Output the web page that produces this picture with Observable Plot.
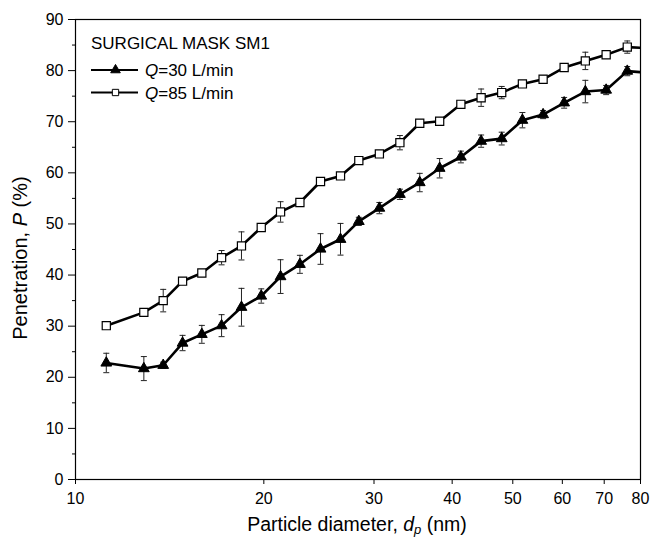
<!DOCTYPE html>
<html>
<head>
<meta charset="utf-8">
<script src="https://cdn.jsdelivr.net/npm/d3@7"></script>
<script src="https://cdn.jsdelivr.net/npm/@observablehq/plot@0.6"></script>
<style>
  html, body { margin: 0; padding: 0; background: white; }
  #chart { width: 650px; height: 540px; }
</style>
</head>
<body>
<div id="chart"></div>
<script>
// ---- data ----
const diameters = [11.2, 12.86, 13.81, 14.83, 15.92, 17.12, 18.42, 19.81, 21.27, 22.84, 24.64, 26.52, 28.37, 30.6, 33.0, 35.5, 38.2, 41.3, 44.5, 48.0, 51.8, 55.9, 60.4, 65.3, 70.5, 76.2, 82.0];
const pen30 = [22.8, 21.7, 22.35, 26.7, 28.4, 30.1, 33.7, 35.9, 39.7, 42.1, 45.1, 47.0, 50.5, 53.1, 55.8, 58.1, 60.9, 63.1, 66.2, 66.7, 70.3, 71.4, 73.7, 75.9, 76.2, 79.9, 79.6];
const err30 = [1.9, 2.35, 0.6, 1.5, 1.75, 2.15, 3.7, 1.4, 3.3, 1.76, 3.0, 3.1, 0.8, 1.1, 1.0, 1.8, 1.9, 1.15, 1.2, 1.25, 1.5, 0.8, 1.05, 2.2, 0.9, 0.9, 0.6];
const pen85 = [30.1, 32.7, 35.0, 38.8, 40.4, 43.4, 45.7, 49.3, 52.35, 54.2, 58.3, 59.4, 62.4, 63.7, 65.9, 69.7, 70.1, 73.4, 74.7, 75.7, 77.4, 78.3, 80.6, 81.9, 83.1, 84.6, 84.4];
const err85 = [0.3, 0.5, 2.2, 0.6, 0.5, 1.4, 2.75, 0.6, 2.0, 0.6, 0.6, 0.4, 0.5, 0.5, 1.4, 0.6, 0.6, 0.6, 1.7, 1.2, 0.5, 0.7, 0.5, 1.7, 0.6, 1.2, 0.6];
const xTicks = [10, 20, 30, 40, 50, 60, 70, 80];
const yTicks = [0, 10, 20, 30, 40, 50, 60, 70, 80, 90];
const yMinorTicks = [5, 15, 25, 35, 45, 55, 65, 75, 85];
const legendTitle = "SURGICAL MASK SM1";
const seriesLabels = ["=30 L/min", "=85 L/min"];

const d30 = diameters.map((d, i) => ({d, p: pen30[i], lo: pen30[i] - err30[i], hi: pen30[i] + err30[i]}));
const d85 = diameters.map((d, i) => ({d, p: pen85[i], lo: pen85[i] - err85[i], hi: pen85[i] + err85[i]}));

const FONT = "'Liberation Sans', Arial, Helvetica, sans-serif";
const capSymbol = {
  draw(context, size) {
    const r = Math.sqrt(size / Math.PI);
    context.moveTo(-r, 0);
    context.lineTo(r, 0);
  }
};

function errMarks(data) {
  return [
    Plot.ruleX(data, {x: "d", y1: "lo", y2: "hi", stroke: "#222", strokeWidth: 1, clip: true}),
    Plot.dot(data, {x: "d", y: "lo", symbol: capSymbol, r: 3, stroke: "#222", strokeWidth: 1, clip: true}),
    Plot.dot(data, {x: "d", y: "hi", symbol: capSymbol, r: 3, stroke: "#222", strokeWidth: 1, clip: true})
  ];
}

const chart = Plot.plot({
  width: 650,
  height: 540,
  marginLeft: 75,
  marginRight: 10,
  marginTop: 19,
  marginBottom: 61,
  style: {fontFamily: FONT, fontSize: "16px", color: "black", background: "white"},
  x: {type: "log", domain: [10, 80]},
  y: {domain: [0, 90]},
  marks: [
    Plot.axisX({ticks: xTicks, tickFormat: d => String(d), tickSize: 5, tickPadding: 8, label: null, fontSize: 16}),
    Plot.axisY({ticks: yTicks, tickSize: 7, tickPadding: 5, label: null, fontSize: 16}),
    Plot.axisY({ticks: yMinorTicks, tickSize: 3, tickFormat: () => "", label: null}),
    ...errMarks(d30),
    ...errMarks(d85),
    Plot.line(d30, {x: "d", y: "p", stroke: "black", strokeWidth: 2.6, clip: true}),
    Plot.line(d85, {x: "d", y: "p", stroke: "black", strokeWidth: 2.6, clip: true}),
    Plot.dot(d30, {x: "d", y: "p", symbol: "triangle", r: 4, fill: "black", stroke: "black", strokeWidth: 1, clip: true}),
    Plot.dot(d85, {x: "d", y: "p", symbol: "square", r: 4.6, fill: "white", stroke: "black", strokeWidth: 1.2, clip: true}),
    Plot.frame({stroke: "black", strokeWidth: 1.2})
  ]
});

document.getElementById("chart").appendChild(chart);

// ---- axis labels and legend ----
const svg = d3.select(chart);

const xl = svg.append("text")
  .attr("x", 357).attr("y", 531)
  .attr("text-anchor", "middle")
  .attr("font-family", FONT).attr("font-size", 19.5).attr("fill", "black");
xl.append("tspan").text("Particle diameter, ");
xl.append("tspan").attr("font-style", "italic").text("d");
xl.append("tspan").attr("font-style", "italic").attr("font-size", 13).attr("dy", 3).text("p");
xl.append("tspan").attr("dy", -3).text(" (nm)");

const yl = svg.append("text")
  .attr("transform", "translate(27,258) rotate(-90)")
  .attr("text-anchor", "middle")
  .attr("font-family", FONT).attr("font-size", 20).attr("fill", "black");
yl.append("tspan").text("Penetration, ");
yl.append("tspan").attr("font-style", "italic").text("P");
yl.append("tspan").text(" (%)");

svg.append("text")
  .attr("x", 91).attr("y", 49)
  .attr("text-anchor", "start")
  .attr("font-family", FONT).attr("font-size", 17).attr("fill", "black")
  .text(legendTitle);

const rows = [
  {y: 70, ty: 76, sym: d3.symbolTriangle, fill: "black", size: 40, label: seriesLabels[0]},
  {y: 92.5, ty: 99, sym: d3.symbolSquare, fill: "white", size: 40, label: seriesLabels[1]}
];
rows.forEach(r => {
  svg.append("line").attr("x1", 91).attr("x2", 138).attr("y1", r.y).attr("y2", r.y)
    .attr("stroke", "black").attr("stroke-width", 2.2);
  svg.append("path").attr("d", d3.symbol(r.sym, r.size)())
    .attr("transform", `translate(115.5,${r.y})`)
    .attr("fill", r.fill).attr("stroke", "black").attr("stroke-width", 1);
  const t = svg.append("text").attr("x", 145).attr("y", r.ty)
    .attr("text-anchor", "start")
    .attr("font-family", FONT).attr("font-size", 17).attr("fill", "black");
  t.append("tspan").attr("font-style", "italic").text("Q");
  t.append("tspan").text(r.label);
});
</script>
</body>
</html>
